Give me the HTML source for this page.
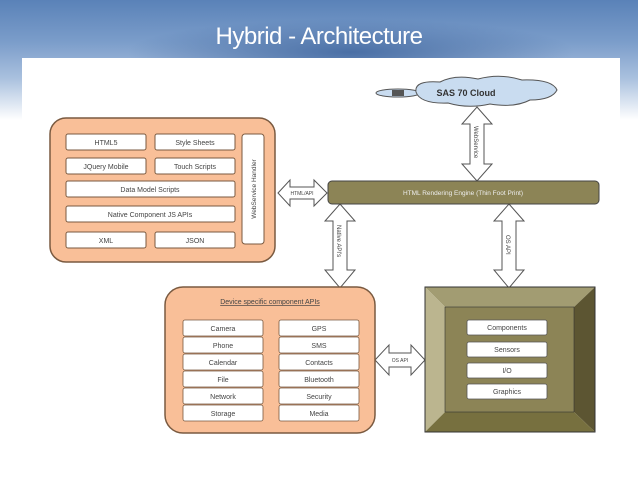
<!DOCTYPE html>
<html><head><style>
html,body{margin:0;padding:0;width:638px;height:479px;overflow:hidden;background:#fff;font-family:"Liberation Sans",sans-serif}
.bg{position:absolute;left:0;top:0;width:638px;height:120px;background:linear-gradient(180deg,#5a82b8 0%,#7b9dca 35%,#a9c0de 65%,#fff 100%)}
.bl{position:absolute;left:0;top:0;width:638px;height:58px;background:radial-gradient(ellipse at 55% 90%,#4a6fa5 0%,rgba(80,115,170,0) 45%)}
h1{position:absolute;left:0;width:638px;top:23px;margin:0;text-align:center;color:#fff;font-weight:normal;font-size:24px;letter-spacing:-0.5px}
.panel{position:absolute;left:22px;top:58px;width:598px;height:421px;background:#fff}
svg{position:absolute;left:0;top:0}
text{font-family:"Liberation Sans",sans-serif;font-size:7px;fill:#444}
</style></head><body>
<div class="bg"></div><div class="bl"></div>
<h1>Hybrid - Architecture</h1>
<div class="panel"></div>
<svg width="638" height="479" viewBox="0 0 638 479">
<g fill="#c9dcf0" stroke="#555" stroke-width="1">
<ellipse cx="398" cy="93" rx="22" ry="4"/>
<path d="M416 92 Q414 80 440 82 Q455 74 478 79 Q500 73 522 80 Q552 79 557 90 Q552 100 530 100 Q515 108 490 104 Q468 109 448 103 Q420 104 416 92 Z"/>
</g>
<rect x="392" y="90" width="12" height="6" fill="#555"/>
<text x="466" y="96" text-anchor="middle" style="font-size:9px;font-weight:bold;fill:#333">SAS 70 Cloud</text>
<g fill="#fff" stroke="#555" stroke-width="1">
<path d="M477 107 L492 124 L484 124 L484 164 L492 164 L477 181 L462 164 L470 164 L470 124 L462 124 Z"/>
<path d="M340 204 L355 221 L347 221 L347 270 L355 270 L340 288 L325 270 L333 270 L333 221 L325 221 Z"/>
<path d="M509 204 L524 221 L516 221 L516 270 L524 270 L509 288 L494 270 L502 270 L502 221 L494 221 Z"/>
<path d="M278 193 L290 180 L290 187 L314 187 L314 180 L327 193 L314 206 L314 199 L290 199 L290 206 Z"/>
<path d="M375 360 L389 345 L389 353 L411 353 L411 345 L425 360 L411 375 L411 367 L389 367 L389 375 Z"/>
</g>
<text x="0" y="0" transform="translate(474,126) rotate(90)" style="font-size:6px">WebService</text>
<text x="0" y="0" transform="translate(337,225) rotate(90)" style="font-size:6px">Native API's</text>
<text x="0" y="0" transform="translate(506,235) rotate(90)" style="font-size:6px">OS API</text>
<text x="302" y="195" text-anchor="middle" style="font-size:5px">HTML/API</text>
<text x="400" y="362" text-anchor="middle" style="font-size:5px">OS API</text>
<rect x="50" y="118" width="225" height="144" rx="16" fill="#f9bf98" stroke="#7a5a40" stroke-width="1.5"/>
<g fill="#fff" stroke="#7a5a40" stroke-width="1">
<rect x="66" y="134" width="80" height="16" rx="2"/><rect x="155" y="134" width="80" height="16" rx="2"/>
<rect x="66" y="158" width="80" height="16" rx="2"/><rect x="155" y="158" width="80" height="16" rx="2"/>
<rect x="66" y="181" width="169" height="16" rx="2"/>
<rect x="66" y="206" width="169" height="16" rx="2"/>
<rect x="66" y="232" width="80" height="16" rx="2"/><rect x="155" y="232" width="80" height="16" rx="2"/>
<rect x="242" y="134" width="22" height="110" rx="3"/>
</g>
<g text-anchor="middle">
<text x="106" y="145">HTML5</text><text x="195" y="145">Style Sheets</text>
<text x="106" y="169">JQuery Mobile</text><text x="195" y="169">Touch Scripts</text>
<text x="150" y="192">Data Model Scripts</text>
<text x="150" y="217">Native Component  JS APIs</text>
<text x="106" y="243">XML</text><text x="195" y="243">JSON</text>
</g>
<text x="0" y="0" transform="translate(256,189) rotate(-90)" text-anchor="middle" style="font-size:6.5px">WebService Handler</text>
<rect x="328" y="181" width="271" height="23" rx="4" fill="#8c8456" stroke="#444" stroke-width="1"/>
<text x="463" y="195" text-anchor="middle" style="font-size:6.5px;fill:#eee">HTML Rendering  Engine  (Thin Foot Print)</text>
<rect x="165" y="287" width="210" height="146" rx="18" fill="#f9bf98" stroke="#7a5a40" stroke-width="1.5"/>
<text x="270" y="304" text-anchor="middle" style="text-decoration:underline">Device specific  component  APIs</text>
<g fill="#fff" stroke="#7a5a40" stroke-width="0.8">
<rect x="183" y="320" width="80" height="16" rx="2"/><rect x="279" y="320" width="80" height="16" rx="2"/>
<rect x="183" y="337" width="80" height="16" rx="2"/><rect x="279" y="337" width="80" height="16" rx="2"/>
<rect x="183" y="354" width="80" height="16" rx="2"/><rect x="279" y="354" width="80" height="16" rx="2"/>
<rect x="183" y="371" width="80" height="16" rx="2"/><rect x="279" y="371" width="80" height="16" rx="2"/>
<rect x="183" y="388" width="80" height="16" rx="2"/><rect x="279" y="388" width="80" height="16" rx="2"/>
<rect x="183" y="405" width="80" height="16" rx="2"/><rect x="279" y="405" width="80" height="16" rx="2"/>
</g>
<g text-anchor="middle">
<text x="223" y="331">Camera</text><text x="319" y="331">GPS</text>
<text x="223" y="348">Phone</text><text x="319" y="348">SMS</text>
<text x="223" y="365">Calendar</text><text x="319" y="365">Contacts</text>
<text x="223" y="382">File</text><text x="319" y="382">Bluetooth</text>
<text x="223" y="399">Network</text><text x="319" y="399">Security</text>
<text x="223" y="416">Storage</text><text x="319" y="416">Media</text>
</g>
<polygon points="425,287 595,287 574,307 445,307" fill="#a29c72"/>
<polygon points="425,287 445,307 445,412 425,432" fill="#bbb58f"/>
<polygon points="595,287 595,432 574,412 574,307" fill="#5c5532"/>
<polygon points="425,432 595,432 574,412 445,412" fill="#77703f"/>
<rect x="445" y="307" width="129" height="105" fill="#8c8456"/>
<rect x="425" y="287" width="170" height="145" fill="none" stroke="#333" stroke-width="1"/>
<rect x="445" y="307" width="129" height="105" fill="none" stroke="#333" stroke-width="0.6"/>
<g fill="#fff" stroke="#555" stroke-width="0.8">
<rect x="467" y="320" width="80" height="15" rx="2"/>
<rect x="467" y="342" width="80" height="15" rx="2"/>
<rect x="467" y="363" width="80" height="15" rx="2"/>
<rect x="467" y="384" width="80" height="15" rx="2"/>
</g>
<g text-anchor="middle">
<text x="507" y="330">Components</text>
<text x="507" y="352">Sensors</text>
<text x="507" y="373">I/O</text>
<text x="507" y="394">Graphics</text>
</g>
</svg>
</body></html>
